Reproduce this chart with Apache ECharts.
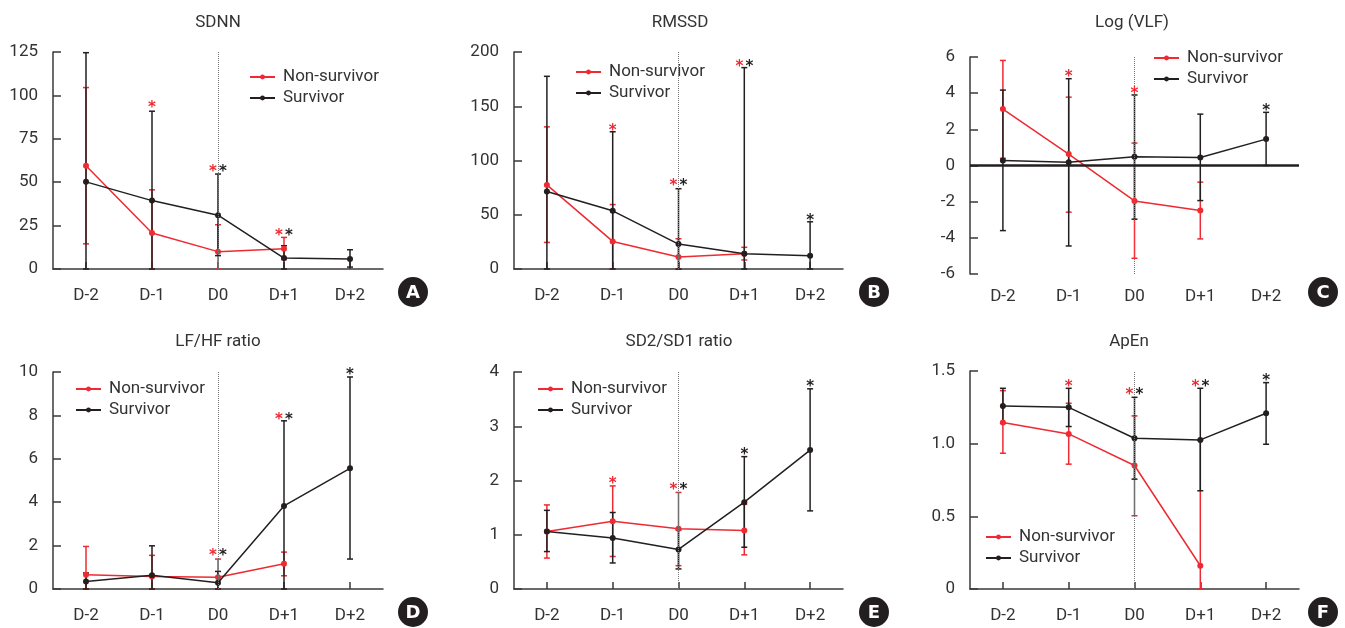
<!DOCTYPE html>
<html><head><meta charset="utf-8">
<script src="https://cdn.jsdelivr.net/npm/echarts@6/dist/echarts.min.js"></script>
<style>html,body{margin:0;padding:0;background:#fff}#c{width:1345px;height:628px}</style>
</head><body><div id="c"></div>
<script>
const categories = ['D-2','D-1','D0','D+1','D+2'];
const seriesNames = ['Non-survivor','Survivor'];
const panelTitles = ['SDNN','RMSSD','Log (VLF)','LF/HF ratio','SD2/SD1 ratio','ApEn'];
const panelLetters = ['A','B','C','D','E','F'];
const yMins = [0, 0, -6, 0, 0, 0];
const yMaxs = [125, 200, 6, 10, 4, 1.5];
const yIntervals = [25, 50, 2, 2, 1, 0.5];

// A: SDNN
const sdnnNS = [59.5, 20.7, 10.0, 11.7, null];
const sdnnNSLow = [14.5, 0, 0, 5.4, null];
const sdnnNSHigh = [104.5, 45.6, 25.5, 18.2, null];
const sdnnS = [50.2, 39.4, 31.0, 6.3, 5.7];
const sdnnSLow = [0, 0, 7.7, 0, 1.1];
const sdnnSHigh = [124.6, 90.9, 54.7, 13.4, 11.1];
const sdnnStarNS = [[1, 95], [2, 58], [3, 21]];
const sdnnStarS = [[2, 58], [3, 21]];

// B: RMSSD
const rmssdNS = [77.5, 25.4, 11.0, 14.0, null];
const rmssdNSLow = [24.5, 0, 0, 8.3, null];
const rmssdNSHigh = [131, 59.4, 27.9, 20.0, null];
const rmssdS = [71.4, 53.6, 23.0, 14.0, 12.3];
const rmssdSLow = [0, 0, 0, 0, 0];
const rmssdSHigh = [177.6, 126.5, 74.0, 185.6, 43.5];
const rmssdStarNS = [[1, 131], [2, 80], [3, 190]];
const rmssdStarS = [[2, 80], [3, 190], [4, 48]];

// C: Log (VLF)
const vlfNS = [3.12, 0.63, -1.96, -2.49, null];
const vlfNSLow = [0.4, -2.58, -5.13, -4.06, null];
const vlfNSHigh = [5.81, 3.78, 1.24, -0.92, null];
const vlfS = [0.28, 0.18, 0.48, 0.44, 1.46];
const vlfSLow = [-3.6, -4.45, -2.97, -1.94, 0];
const vlfSHigh = [4.17, 4.8, 3.9, 2.84, 2.94];
const vlfStarNS = [[1, 5.11], [2, 4.19]];
const vlfStarS = [[4, 3.23]];

// D: LF/HF ratio
const lfhfNS = [0.66, 0.58, 0.54, 1.16, null];
const lfhfNSLow = [0, 0, 0, 0.61, null];
const lfhfNSHigh = [1.96, 1.55, 1.38, 1.70, null];
const lfhfS = [0.35, 0.63, 0.29, 3.83, 5.56];
const lfhfSLow = [0, 0, 0, 0, 1.38];
const lfhfSHigh = [0.74, 1.99, 0.81, 7.75, 9.77];
const lfhfStarNS = [[2, 1.7], [3, 7.96]];
const lfhfStarS = [[2, 1.7], [3, 7.96], [4, 10.03]];

// E: SD2/SD1 ratio
const sdNS = [1.06, 1.25, 1.11, 1.08, null];
const sdNSLow = [0.57, 0.60, 0.43, 0.63, null];
const sdNSHigh = [1.55, 1.90, 1.78, 1.56, null];
const sdS = [1.06, 0.94, 0.73, 1.60, 2.56];
const sdSLow = [0.69, 0.48, 0.37, 0.77, 1.44];
const sdSHigh = [1.45, 1.41, 1.09, 2.44, 3.69];
const sdStarNS = [[1, 2.0], [2, 1.89]];
const sdStarS = [[2, 1.89], [3, 2.54], [4, 3.79]];

// F: ApEn
const apenNS = [1.145, 1.067, 0.85, 0.16, null];
const apenNSLow = [0.934, 0.859, 0.504, 0, null];
const apenNSHigh = [1.365, 1.278, 1.191, 1.026, null];
const apenS = [1.26, 1.25, 1.037, 1.026, 1.209];
const apenSLow = [1.14, 1.118, 0.756, 0.676, 0.996];
const apenSHigh = [1.381, 1.381, 1.319, 1.381, 1.42];
const apenStarNS = [[1, 1.42], [2, 1.363], [3, 1.42]];
const apenStarS = [[2, 1.363], [3, 1.42], [4, 1.457]];

const RED = '#ee2a32';
const BLACK = '#231f20';
const AXIS = '#3a3a3a';
const TXT = '#333333';
const FONT = 'Roboto';

const panelData = [
  [sdnnNS, sdnnNSLow, sdnnNSHigh, sdnnS, sdnnSLow, sdnnSHigh, sdnnStarNS, sdnnStarS],
  [rmssdNS, rmssdNSLow, rmssdNSHigh, rmssdS, rmssdSLow, rmssdSHigh, rmssdStarNS, rmssdStarS],
  [vlfNS, vlfNSLow, vlfNSHigh, vlfS, vlfSLow, vlfSHigh, vlfStarNS, vlfStarS],
  [lfhfNS, lfhfNSLow, lfhfNSHigh, lfhfS, lfhfSLow, lfhfSHigh, lfhfStarNS, lfhfStarS],
  [sdNS, sdNSLow, sdNSHigh, sdS, sdSLow, sdSHigh, sdStarNS, sdStarS],
  [apenNS, apenNSLow, apenNSHigh, apenS, apenSLow, apenSHigh, apenStarNS, apenStarS]
];

// layout
const grids = [
  {left: 53, top: 52, width: 330, height: 217},
  {left: 514, top: 52, width: 329, height: 217},
  {left: 970, top: 57, width: 329, height: 217},
  {left: 53, top: 372, width: 330, height: 217},
  {left: 514, top: 372, width: 329, height: 217},
  {left: 970, top: 371, width: 329, height: 218}
];
const titlePos = [[218, 23], [680, 23], [1132, 23], [218, 342], [679, 342], [1129, 342]];
const legendPos = [[249, 67], [575, 62], [1153, 48], [75, 379], [537, 379], [985, 527]];
const letterPos = [[413, 292], [874, 292], [1323, 292], [413, 612], [874, 612], [1323, 612]];

function errRender(color) {
  return function (params, api) {
    const lo = api.coord([api.value(0), api.value(1)]);
    const hi = api.coord([api.value(0), api.value(2)]);
    const cx = lo[0], w = 3;
    const st = {stroke: color, lineWidth: 1.5};
    return {type: 'group', children: [
      {type: 'line', shape: {x1: cx, y1: lo[1], x2: cx, y2: hi[1]}, style: st},
      {type: 'line', shape: {x1: cx - w, y1: hi[1], x2: cx + w, y2: hi[1]}, style: st},
      {type: 'line', shape: {x1: cx - w, y1: lo[1], x2: cx + w, y2: lo[1]}, style: st}
    ]};
  };
}
function starRender(color) {
  return function (params, api) {
    const p = api.coord([api.value(0), api.value(1)]);
    return {type: 'text', x: p[0] + api.value(2), y: p[1] + 4,
      style: {text: '*', fill: color, font: 'bold 15px "DejaVu Sans"',
        align: 'center', verticalAlign: 'middle', textAlign: 'center', textVerticalAlign: 'middle'}};
  };
}

const option = {
  animation: false,
  backgroundColor: '#fff',
  grid: [], xAxis: [], yAxis: [], series: [], legend: [], graphic: []
};

panelData.forEach((d, i) => {
  const [ns, nsLo, nsHi, s, sLo, sHi, stNS, stS] = d;
  option.grid.push(Object.assign({containLabel: false}, grids[i]));
  const isC = i === 2;
  option.xAxis.push({
    type: 'category', gridIndex: i, data: categories, boundaryGap: true,
    axisLine: {show: !isC, onZero: false, lineStyle: {color: AXIS, width: 1.5}},
    axisTick: {show: !isC, inside: true, alignWithLabel: true, length: 7, lineStyle: {color: AXIS, width: 1.5}},
    axisLabel: {color: TXT, fontSize: 17, fontFamily: FONT, margin: isC ? 14 : 18},
    splitLine: {show: false}
  });
  option.yAxis.push({
    type: 'value', gridIndex: i, min: yMins[i], max: yMaxs[i], interval: yIntervals[i],
    axisLine: {show: true, onZero: false, lineStyle: {color: AXIS, width: 1.5}},
    axisTick: {show: true, inside: true, length: 8, lineStyle: {color: AXIS, width: 1.5}},
    axisLabel: {color: TXT, fontSize: 17, fontFamily: FONT, margin: 15,
      formatter: i === 5 ? (v => v === 0 ? '0' : v.toFixed(1)) : (v => String(v))},
    splitLine: {show: false}
  });
  const mlData = [{xAxis: 'D0', lineStyle: {color: '#777', type: 'dotted', width: 1}}];
  if (isC) mlData.push({yAxis: 0, lineStyle: {color: BLACK, type: 'solid', width: 2.5}});
  const nsErr = [], sErr = [];
  ns.forEach((v, k) => { if (v !== null) nsErr.push([k, nsLo[k], nsHi[k]]); });
  s.forEach((v, k) => { if (v !== null) sErr.push([k, sLo[k], sHi[k]]); });
  const catsNS = stNS.map(a => a[0]), catsS = stS.map(a => a[0]);
  const starNSData = stNS.map(a => [a[0], a[1], catsS.includes(a[0]) ? -5 : 0]);
  const starSData = stS.map(a => [a[0], a[1], catsNS.includes(a[0]) ? 5 : 0]);
  option.series.push(
    {type: 'line', name: 'guide' + i, xAxisIndex: i, yAxisIndex: i, data: [], silent: true,
      markLine: {silent: true, symbol: ['none', 'none'], label: {show: false}, animation: false, data: mlData}},
    {type: 'custom', name: 'errNS' + i, xAxisIndex: i, yAxisIndex: i, renderItem: errRender(RED), data: nsErr, clip: false, z: 2},
    {type: 'custom', name: 'errS' + i, xAxisIndex: i, yAxisIndex: i, renderItem: errRender(BLACK), data: sErr, clip: false, z: 2},
    {type: 'line', name: seriesNames[0], xAxisIndex: i, yAxisIndex: i, data: ns,
      symbol: 'circle', symbolSize: 6, color: RED, lineStyle: {color: RED, width: 1.5}, itemStyle: {color: RED}, z: 3},
    {type: 'line', name: seriesNames[1], xAxisIndex: i, yAxisIndex: i, data: s,
      symbol: 'circle', symbolSize: 6, color: BLACK, lineStyle: {color: BLACK, width: 1.5}, itemStyle: {color: BLACK}, z: 4},
    {type: 'custom', name: 'starNS' + i, xAxisIndex: i, yAxisIndex: i, renderItem: starRender(RED), data: starNSData, clip: false, z: 5},
    {type: 'custom', name: 'starS' + i, xAxisIndex: i, yAxisIndex: i, renderItem: starRender(BLACK), data: starSData, clip: false, z: 5}
  );
  option.legend.push({
    data: seriesNames, orient: 'vertical', left: legendPos[i][0], top: legendPos[i][1],
    itemWidth: 25, itemHeight: 6, itemGap: 1, padding: 0, selectedMode: false,
    textStyle: {color: TXT, fontSize: 17, fontFamily: FONT, lineHeight: 20, padding: [0, 0, 0, 3]}
  });
  option.graphic.push({
    type: 'text', x: titlePos[i][0], y: titlePos[i][1], silent: true,
    style: {text: panelTitles[i], fill: TXT, font: '17px ' + FONT, textAlign: 'center', textVerticalAlign: 'middle', align: 'center', verticalAlign: 'middle'}
  });
  option.graphic.push({
    type: 'group', x: letterPos[i][0], y: letterPos[i][1], silent: true, children: [
      {type: 'circle', shape: {cx: 0, cy: 0, r: 15}, style: {fill: BLACK}},
      {type: 'text', x: 0, y: 1, style: {text: panelLetters[i], fill: '#fff', font: 'bold 18px "DejaVu Sans"',
        textAlign: 'center', textVerticalAlign: 'middle', align: 'center', verticalAlign: 'middle'}}
    ]
  });
});

const chart = echarts.init(document.getElementById('c'), null, {renderer: 'canvas'});
chart.setOption(option);
</script>
</body></html>
